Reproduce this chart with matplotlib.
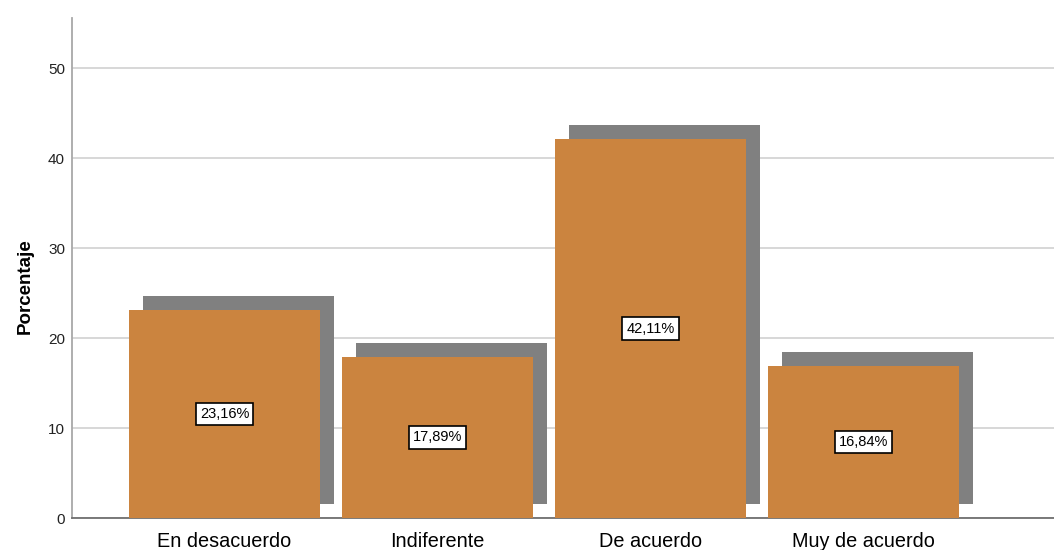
import matplotlib
matplotlib.use("Agg")
import matplotlib.pyplot as plt
import matplotlib.transforms as mtransforms

# Frecuencias en porcentaje por categoría de respuesta
categorias = ["En desacuerdo", "Indiferente", "De acuerdo", "Muy de acuerdo"]
porcentajes = [23.16, 17.89, 42.11, 16.84]
etiquetas = ["23,16%", "17,89%", "42,11%", "16,84%"]

color_barra = "#cb843f"
color_sombra = "#808080"

plt.rcParams['font.family'] = ['Liberation Sans', 'DejaVu Sans']

fig = plt.figure(figsize=(10.54, 5.5), dpi=100)
ax = fig.add_axes([72 / 1054, 32 / 550, 982 / 1054, 500 / 550])

pos = list(range(len(categorias)))
ancho = 191 / 213

# sombra desplazada 14 px a la derecha y hacia arriba
desplaz = mtransforms.offset_copy(ax.transData, fig=fig, x=14, y=14, units='dots')
ax.bar(pos, porcentajes, width=ancho, color=color_sombra, zorder=2,
       transform=desplaz, clip_on=False)
ax.bar(pos, porcentajes, width=ancho, color=color_barra, zorder=3)

for x, v, t in zip(pos, porcentajes, etiquetas):
    ax.text(x, v / 2, t, ha='center', va='center', fontsize=10.5, zorder=4,
            bbox=dict(boxstyle='square,pad=0.28', fc='white', ec='black', lw=1.2))

ax.set_xlim(-0.716, 3.894)
ax.set_ylim(0, 500 / 9)
ax.set_yticks([0, 10, 20, 30, 40, 50])
ax.set_xticks(pos)
ax.set_xticklabels(categorias, fontsize=14.3)
ax.tick_params(axis='x', length=0, pad=10)
ax.tick_params(axis='y', length=0, pad=5, labelsize=11, labelcolor='#222222')
ax.yaxis.grid(True, color='#d4d4d4', lw=1.3, zorder=0)
ax.set_axisbelow(True)

ax.set_ylabel("Porcentaje", fontsize=13.5, fontweight='bold')
ax.yaxis.set_label_coords(-38 / 982, 0.464)

for s in ('top', 'right'):
    ax.spines[s].set_visible(False)
ax.spines['left'].set_color('#a8a8a8')
ax.spines['left'].set_linewidth(1.3)
ax.spines['bottom'].set_color('#707070')
ax.spines['bottom'].set_linewidth(1.3)

fig.savefig("out.png", dpi=100)
